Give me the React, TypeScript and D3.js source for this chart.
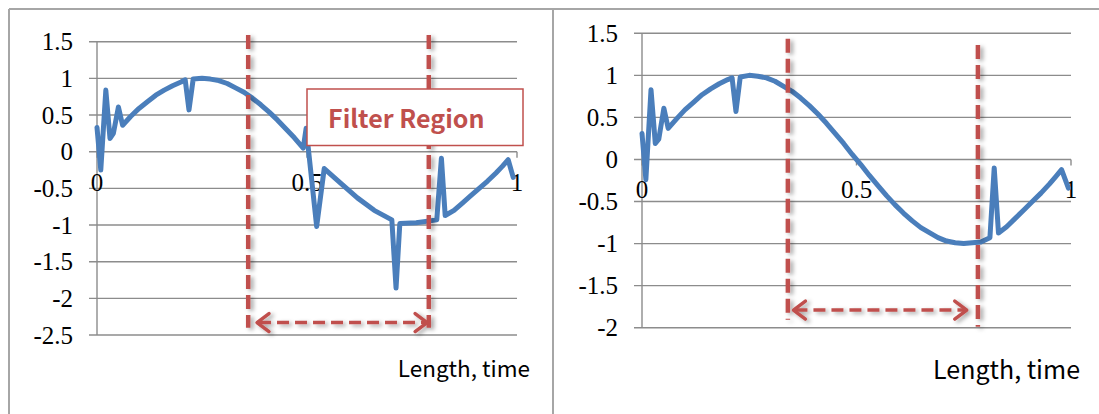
import React from "react";
import * as d3 from "d3";

// ---- data ----
const rawTimes: number[] = [0, 0.009, 0.021, 0.031, 0.039, 0.051, 0.061, 0.08, 0.1, 0.12, 0.14, 0.16, 0.18, 0.2, 0.21, 0.219, 0.229, 0.25, 0.27, 0.29, 0.31, 0.33, 0.35, 0.37, 0.39, 0.41, 0.43, 0.45, 0.47, 0.491, 0.498, 0.523, 0.541, 0.58, 0.62, 0.66, 0.702, 0.712, 0.721, 0.76, 0.809, 0.82, 0.829, 0.85, 0.87, 0.89, 0.91, 0.93, 0.95, 0.965, 0.979, 0.991];
const rawSignal: number[] = [0.33, -0.25, 0.84, 0.18, 0.25, 0.61, 0.36, 0.48, 0.59, 0.68, 0.77, 0.84, 0.9, 0.95, 0.98, 0.57, 0.99, 1.0, 0.99, 0.97, 0.93, 0.87, 0.81, 0.73, 0.64, 0.54, 0.43, 0.31, 0.19, 0.05, 0.32, -1.02, -0.23, -0.43, -0.63, -0.8, -0.93, -1.86, -0.98, -0.97, -0.93, -0.09, -0.87, -0.8, -0.7, -0.6, -0.5, -0.4, -0.29, -0.2, -0.11, -0.35];

const filteredTimes: number[] = [0, 0.009, 0.021, 0.031, 0.039, 0.051, 0.061, 0.08, 0.1, 0.12, 0.14, 0.16, 0.18, 0.2, 0.21, 0.219, 0.229, 0.25, 0.27, 0.29, 0.31, 0.33, 0.35, 0.37, 0.39, 0.41, 0.43, 0.45, 0.47, 0.49, 0.51, 0.53, 0.55, 0.57, 0.59, 0.61, 0.63, 0.65, 0.67, 0.69, 0.71, 0.73, 0.75, 0.77, 0.79, 0.811, 0.821, 0.831, 0.85, 0.87, 0.89, 0.91, 0.93, 0.95, 0.965, 0.978, 0.994];
const filteredSignal: number[] = [0.31, -0.24, 0.83, 0.19, 0.24, 0.61, 0.37, 0.48, 0.59, 0.68, 0.77, 0.84, 0.9, 0.95, 0.97, 0.57, 0.98, 1.0, 0.99, 0.97, 0.93, 0.87, 0.81, 0.73, 0.64, 0.54, 0.43, 0.31, 0.19, 0.06, -0.06, -0.19, -0.31, -0.43, -0.54, -0.64, -0.73, -0.81, -0.87, -0.93, -0.97, -0.99, -1.0, -0.99, -0.98, -0.93, -0.1, -0.875, -0.8, -0.7, -0.6, -0.5, -0.4, -0.29, -0.2, -0.12, -0.34];

const leftYTicks: number[] = [1.5, 1, 0.5, 0, -0.5, -1, -1.5, -2, -2.5];
const rightYTicks: number[] = [1.5, 1, 0.5, 0, -0.5, -1, -1.5, -2];
const xTicks: number[] = [0, 0.5, 1];
const xTickLabels: string[] = ["0", "0.5", "1"];

// filter boundaries (x in data units)
const leftFilter: number[] = [0.36, 0.79];
const rightFilter: number[] = [0.34, 0.783];

const axisTitle = "Length, time";
const noteText = "Filter Region";

const BLUE = "#4A7EBB";
const RED = "#C0504D";
const GRID = "#8C8C8C";
const FRAME = "#A6A6A6";
const SERIF = "Liberation Serif, Tinos, DejaVu Serif, serif";
const SANS = "Noto Sans CJK JP, Noto Sans, sans-serif";

type Pt = [number, number];

function Chart(props: {
  times: number[];
  values: number[];
  yTicks: number[];
  yDomain: [number, number];
  xRange: [number, number];
  yRange: [number, number];
  labelRight: number;
  filter: number[];
  vTop: [number, number];
  vBottom: [number, number];
  arrowY: number;
  arrowX: [number, number];
  titleX: number;
  titleY: number;
  titleSize: number;
  fontSize: number;
}) {
  const x = d3.scaleLinear().domain([0, 1]).range(props.xRange);
  const y = d3.scaleLinear().domain(props.yDomain).range(props.yRange);
  const pts: Pt[] = props.times.map((t, i) => [t, props.values[i]]);
  const line = d3
    .line<Pt>()
    .x((d) => x(d[0]))
    .y((d) => y(d[1]))
    .curve(d3.curveLinear);
  const x0 = props.xRange[0];
  const x1 = props.xRange[1];
  const a0 = x(props.arrowX[0]);
  const a1 = x(props.arrowX[1]);
  const ay = y(props.arrowY);
  return (
    <g>
      {props.yTicks.map((t) => (
        <g key={"g" + t}>
          <line x1={x0 - 8} x2={x1} y1={y(t)} y2={y(t)} stroke={GRID} strokeWidth={1.4} />
          <text
            x={props.labelRight}
            y={y(t)}
            dy="0.35em"
            textAnchor="end"
            style={{ fontFamily: SERIF, fontSize: props.fontSize }}
            fill="#000"
          >
            {t}
          </text>
        </g>
      ))}
      <line x1={x0} x2={x0} y1={y(props.yDomain[1])} y2={y(props.yDomain[0])} stroke={GRID} strokeWidth={1.4} />
      {xTicks.map((t, i) => (
        <g key={"x" + t}>
          <line x1={x(t)} x2={x(t)} y1={y(0)} y2={y(0) + 6} stroke={GRID} strokeWidth={1.4} />
          <text
            x={x(t)}
            y={y(0) + 39}
            textAnchor="middle"
            style={{ fontFamily: SERIF, fontSize: props.fontSize }}
            fill="#000"
          >
            {xTickLabels[i]}
          </text>
        </g>
      ))}
      <path d={line(pts) || ""} fill="none" stroke={BLUE} strokeWidth={5} strokeLinejoin="round" strokeLinecap="round" />
      <g filter="url(#shadow)">
        {props.filter.map((f, i) => (
          <line
            key={"f" + i}
            x1={x(f)}
            x2={x(f)}
            y1={y(props.vTop[i])}
            y2={y(props.vBottom[i])}
            stroke={RED}
            strokeWidth={4.5}
            strokeDasharray="14,6"
          />
        ))}
        <line x1={a0 + 2} x2={a1 - 2} y1={ay} y2={ay} stroke={RED} strokeWidth={3.5} strokeDasharray="12,6" />
        <polyline points={`${a0 + 12},${ay - 9} ${a0},${ay} ${a0 + 12},${ay + 9}`} fill="none" stroke={RED} strokeWidth={3.5} strokeLinecap="round" strokeLinejoin="round" />
        <polyline points={`${a1 - 12},${ay - 9} ${a1},${ay} ${a1 - 12},${ay + 9}`} fill="none" stroke={RED} strokeWidth={3.5} strokeLinecap="round" strokeLinejoin="round" />
      </g>
      <text
        x={props.titleX}
        y={props.titleY}
        textAnchor="end"
        style={{ fontFamily: SANS, fontSize: props.titleSize }}
        fill="#000"
      >
        {axisTitle}
      </text>
    </g>
  );
}

export default function App() {
  return (
    <svg
      width={1099}
      height={414}
      style={{ position: "absolute", left: 0, top: 0, background: "#fff" }}
    >
      <defs>
        <filter id="shadow" x="-50%" y="-10%" width="200%" height="120%">
          <feDropShadow dx={3} dy={2} stdDeviation={2} floodColor="#000" floodOpacity={0.35} />
        </filter>
      </defs>
      <rect x={0} y={0} width={1099} height={414} fill="#fff" />
      {/* frames */}
      <line x1={9} x2={1099} y1={9} y2={9} stroke={FRAME} strokeWidth={2} />
      <line x1={9} x2={9} y1={9} y2={414} stroke={FRAME} strokeWidth={2} />
      <line x1={553} x2={553} y1={9} y2={414} stroke={FRAME} strokeWidth={2} />

      <Chart
        times={rawTimes}
        values={rawSignal}
        yTicks={leftYTicks}
        yDomain={[-2.5, 1.5]}
        xRange={[97, 517]}
        yRange={[335, 41.7]}
        labelRight={73}
        filter={leftFilter}
        vTop={[1.59, 1.59]}
        vBottom={[-2.4, -2.4]}
        arrowY={-2.33}
        arrowX={[0.381, 0.786]}
        titleX={530}
        titleY={377}
        titleSize={22.5}
        fontSize={25}
      />
      <Chart
        times={filteredTimes}
        values={filteredSignal}
        yTicks={rightYTicks}
        yDomain={[-2, 1.5]}
        xRange={[642, 1071]}
        yRange={[327.7, 33.3]}
        labelRight={618}
        filter={rightFilter}
        vTop={[1.435, 1.36]}
        vBottom={[-1.906, -1.99]}
        arrowY={-1.79}
        arrowX={[0.353, 0.757]}
        titleX={1080}
        titleY={379}
        titleSize={25}
        fontSize={25}
      />

      {/* annotation box */}
      <g>
        <rect x={307} y={89} width={216} height={56.5} fill="#fff" stroke={RED} strokeWidth={1.5} />
        <text
          x={328}
          y={128}
          style={{ fontFamily: SANS, fontSize: 25, fontWeight: 600 }}
          fill={RED}
        >
          {noteText}
        </text>
      </g>
    </svg>
  );
}
